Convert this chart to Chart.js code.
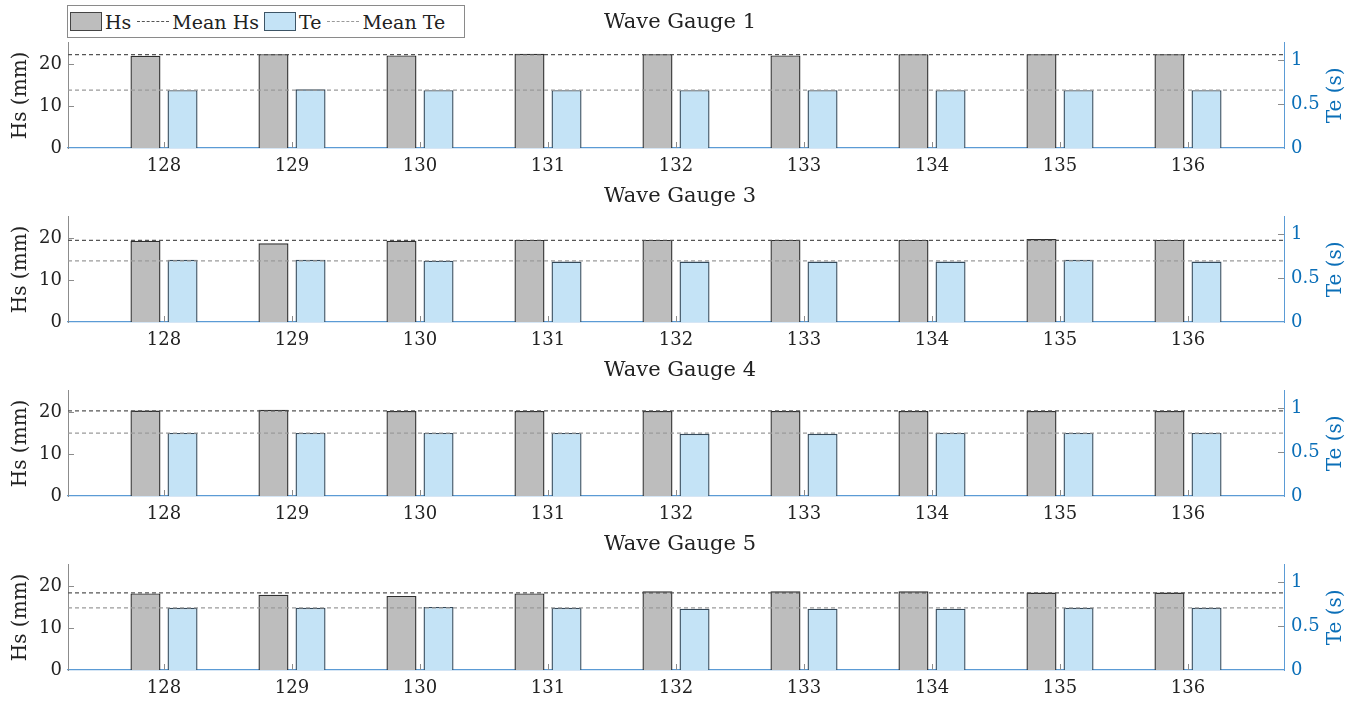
<!DOCTYPE html>
<html>
<head>
<meta charset="utf-8">
<script src="https://cdn.jsdelivr.net/npm/chart.js@4.4.1/dist/chart.umd.min.js"></script>
<style>
    body { margin: 0; background: #fff; width: 1360px; height: 702px; overflow: hidden; position: relative; font-family: "DejaVu Serif", serif; }
    .panel { position: absolute; left: 0; width: 1360px; height: 174px; }
    #legend { position: absolute; left: 67px; top: 5px; width: 394px; height: 31px; border: 1px solid #8a8a8a; background: #fff;
              display: flex; align-items: center; padding: 0 0 0 2px; font-size: 19px; color: #222; z-index: 5; box-sizing: content-box; }
    .sw { width: 30px; height: 17px; border: 1px solid #444; flex: none; }
    .dash { width: 32px; border-top: 1.5px dashed #555; margin: 0 3px 0 6px; flex: none; }
</style>
</head>
<body>
<div id="legend">
    <span class="sw" style="background:#bdbdbd"></span><span style="margin-left:3px">Hs</span>
    <span class="dash"></span><span>Mean Hs</span>
    <span class="sw" style="background:#c4e3f6;border-color:#3d5566;margin-left:5px"></span><span style="margin-left:3px">Te</span>
    <span class="dash" style="border-top-color:#9a9a9a"></span><span>Mean Te</span>
</div>
<div class="panel" style="top:0"><canvas id="c0" width="1360" height="174"></canvas></div>
<div class="panel" style="top:174px"><canvas id="c1" width="1360" height="174"></canvas></div>
<div class="panel" style="top:348px"><canvas id="c2" width="1360" height="174"></canvas></div>
<div class="panel" style="top:522px"><canvas id="c3" width="1360" height="174"></canvas></div>
<script>
// run numbers on the x axis
const runs = [128, 129, 130, 131, 132, 133, 134, 135, 136];
const gauges = ['Wave Gauge 1', 'Wave Gauge 3', 'Wave Gauge 4', 'Wave Gauge 5'];

// significant wave height (mm) per gauge
const hsWG1 = [21.9, 22.3, 22.0, 22.4, 22.3, 22.0, 22.3, 22.3, 22.3];
const hsWG3 = [19.3, 18.7, 19.3, 19.5, 19.5, 19.5, 19.5, 19.7, 19.5];
const hsWG4 = [20.3, 20.5, 20.2, 20.2, 20.2, 20.2, 20.2, 20.2, 20.2];
const hsWG5 = [18.2, 17.9, 17.6, 18.2, 18.7, 18.7, 18.7, 18.4, 18.4];

// energy period (s) per gauge
const teWG1 = [0.66, 0.67, 0.66, 0.66, 0.66, 0.66, 0.66, 0.66, 0.66];
const teWG3 = [0.71, 0.71, 0.70, 0.69, 0.69, 0.69, 0.69, 0.71, 0.69];
const teWG4 = [0.72, 0.72, 0.72, 0.72, 0.71, 0.71, 0.72, 0.72, 0.72];
const teWG5 = [0.71, 0.71, 0.72, 0.71, 0.70, 0.70, 0.70, 0.71, 0.71];

const hsTicks = [0, 10, 20];
const teTicks = [0, 0.5, 1];

const hsSets = [hsWG1, hsWG3, hsWG4, hsWG5];
const teSets = [teWG1, teWG3, teWG4, teWG5];

const X_MIN = 127.25, X_MAX = 136.75;
const FONT = '"DejaVu Serif", serif';
const BLUE = '#0b6fb8';

const mean = arr => arr.reduce((a, b) => a + b, 0) / arr.length;

// small inward tick marks + right axis title drawn bottom-to-top
const matlabAxes = {
    id: 'matlabAxes',
    afterDatasetsDraw(chart) {
        const { ctx, chartArea: a, scales } = chart;
        ctx.save();
        ctx.lineWidth = 1;
        ctx.strokeStyle = '#8c8c8c';
        ctx.beginPath();
        hsTicks.forEach(v => {
            if (v === 0) return;
            const y = Math.round(scales.y.getPixelForValue(v)) + 0.5;
            ctx.moveTo(a.left, y); ctx.lineTo(a.left + 6, y);
        });
        teTicks.forEach(v => {
            if (v === 0) return;
            const y = Math.round(scales.y1.getPixelForValue(v)) + 0.5;
            ctx.moveTo(a.right, y); ctx.lineTo(a.right - 6, y);
        });
        runs.forEach(v => {
            const x = Math.round(scales.x.getPixelForValue(v)) + 0.5;
            ctx.moveTo(x, a.bottom); ctx.lineTo(x, a.bottom - 6);
        });
        ctx.stroke();
        ctx.restore();
    },
    afterDraw(chart) {
        const { ctx, chartArea: a } = chart;
        ctx.save();
        ctx.translate(1336, (a.top + a.bottom) / 2);
        ctx.rotate(-Math.PI / 2);
        ctx.fillStyle = BLUE;
        ctx.font = '20px ' + FONT;
        ctx.textAlign = 'center';
        ctx.textBaseline = 'middle';
        ctx.fillText('Te (s)', 0, 0);
        ctx.restore();
    }
};

function makePanel(i) {
    const hs = hsSets[i], te = teSets[i];
    const hsMean = mean(hs), teMean = mean(te);
    new Chart(document.getElementById('c' + i), {
        type: 'bar',
        data: {
            datasets: [
                {
                    label: 'Hs', yAxisID: 'y', order: 2,
                    data: runs.map((r, k) => ({ x: r, y: hs[k] })),
                    backgroundColor: '#bdbdbd', borderColor: '#2e2e2e', borderWidth: 1.4,
                    categoryPercentage: 0.579, barPercentage: 0.81
                },
                {
                    label: 'Te', yAxisID: 'y1', order: 2,
                    data: runs.map((r, k) => ({ x: r, y: te[k] })),
                    backgroundColor: '#c4e3f6', borderColor: '#34495a', borderWidth: 1.4,
                    categoryPercentage: 0.579, barPercentage: 0.81
                },
                {
                    type: 'line', label: 'Mean Hs', yAxisID: 'y', order: 1,
                    data: [{ x: X_MIN, y: hsMean }, { x: X_MAX, y: hsMean }],
                    borderColor: '#555', borderWidth: 1.2, borderDash: [4, 3], pointRadius: 0, fill: false
                },
                {
                    type: 'line', label: 'Mean Te', yAxisID: 'y1', order: 1,
                    data: [{ x: X_MIN, y: teMean }, { x: X_MAX, y: teMean }],
                    borderColor: '#9a9a9a', borderWidth: 1.2, borderDash: [4, 3], pointRadius: 0, fill: false
                }
            ]
        },
        options: {
            responsive: false,
            animation: false,
            devicePixelRatio: 1,
            layout: { padding: 0 },
            plugins: {
                legend: { display: false },
                tooltip: { enabled: false },
                title: {
                    display: true, text: gauges[i], color: '#222',
                    font: { family: FONT, size: 21, weight: 'normal' },
                    padding: { top: 10, bottom: 7.6 }
                }
            },
            scales: {
                x: {
                    type: 'linear', offset: false, min: X_MIN, max: X_MAX,
                    grid: { display: false, drawTicks: false },
                    border: { display: true, color: '#5b9bd5', width: 1.2 },
                    afterBuildTicks: s => { s.ticks = runs.map(v => ({ value: v })); },
                    ticks: { color: '#222', font: { family: FONT, size: 18 }, padding: 8, maxRotation: 0, callback: v => String(v) },
                    afterFit: s => { s.height = 26; }
                },
                y: {
                    position: 'left', min: 0, max: 25,
                    grid: { display: false, drawTicks: false },
                    border: { display: true, color: '#8c8c8c' },
                    afterBuildTicks: s => { s.ticks = hsTicks.map(v => ({ value: v })); },
                    ticks: { color: '#222', font: { family: FONT, size: 18 }, padding: 6 },
                    title: { display: true, text: 'Hs (mm)', color: '#222', font: { family: FONT, size: 20 }, padding: { top: 9, bottom: 0 } },
                    afterFit: s => { s.width = 68; }
                },
                y1: {
                    position: 'right', min: 0, max: 1.2,
                    grid: { display: false, drawTicks: false },
                    border: { display: true, color: '#5b9bd5' },
                    afterBuildTicks: s => { s.ticks = teTicks.map(v => ({ value: v })); },
                    ticks: { color: BLUE, font: { family: FONT, size: 18 }, padding: 7, callback: v => String(v) },
                    afterFit: s => { s.width = 76; }
                }
            }
        },
        plugins: [matlabAxes]
    });
}

gauges.forEach((g, i) => makePanel(i));
</script>
</body>
</html>
